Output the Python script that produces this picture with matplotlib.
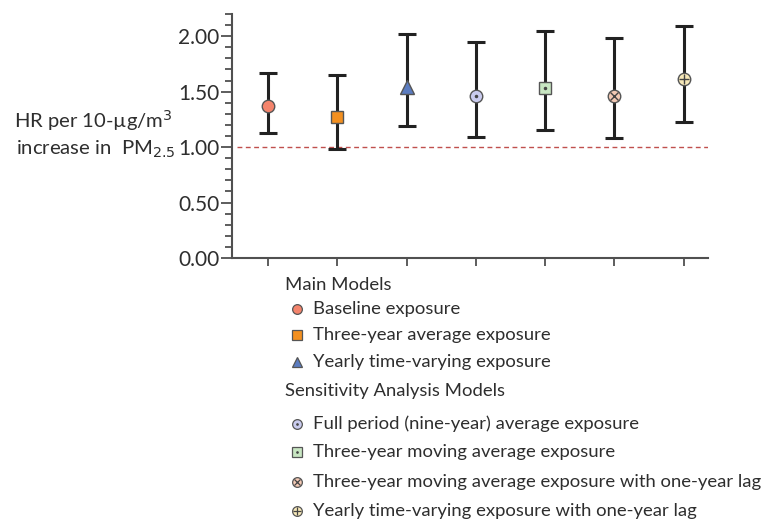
import matplotlib
matplotlib.use("Agg")
import matplotlib.pyplot as plt
from matplotlib.lines import Line2D
from matplotlib.ticker import MultipleLocator

plt.rcParams['font.family'] = ['Lato', 'DejaVu Sans']

# Hazard ratios with 95% confidence limits
models = [
    "Baseline exposure",
    "Three-year average exposure",
    "Yearly time-varying exposure",
    "Full period (nine-year) average exposure",
    "Three-year moving average exposure",
    "Three-year moving average exposure with one-year lag",
    "Yearly time-varying exposure with one-year lag",
]
hr = [1.37, 1.27, 1.54, 1.46, 1.53, 1.46, 1.61]
lower = [1.13, 0.98, 1.19, 1.09, 1.15, 1.08, 1.23]
upper = [1.67, 1.65, 2.02, 1.95, 2.05, 1.98, 2.09]
yticks = [0.0, 0.5, 1.0, 1.5, 2.0]
ytick_labels = ["0.00", "0.50", "1.00", "1.50", "2.00"]
group_titles = ["Main Models", "Sensitivity Analysis Models"]
group_sizes = [3, 4]

# marker shape, face colour, inner symbol
styles = [
    ("o", "#f4846c", None),
    ("s", "#f39020", None),
    ("^", "#5b7cc0", None),
    ("o", "#c9cbee", "."),
    ("s", "#c8e6c2", "."),
    ("o", "#f3c9b4", "x"),
    ("o", "#f6e8b8", "+"),
]

fig = plt.figure(figsize=(7.61, 5.21), dpi=100)
ax = fig.add_axes([232 / 761, 1 - 258 / 521, 476 / 761, 244 / 521])

x = list(range(1, len(hr) + 1))
ink = "#222222"
edge = "#555555"
text_col = "#2e2e2e"

ax.axhline(1.0, xmin=0.01, xmax=1.0, color="#c0504d", lw=1.0,
           ls=(0, (3.5, 2.5)), zorder=1)

for xi, h, lo, up, (mk, fc, inner) in zip(x, hr, lower, upper, styles):
    ax.errorbar([xi], [h], yerr=[[h - lo], [up - h]], fmt="none",
                ecolor=ink, elinewidth=2.2, capsize=6.5, capthick=2.2, zorder=2)
    ms = 9 if mk != "^" else 9.5
    ax.plot([xi], [h], marker=mk, ms=ms, mfc=fc, mec=edge, mew=1.0,
            ls="none", zorder=3)
    if inner is not None:
        ims = {".": 3, "x": 6, "+": 7.5}[inner]
        ax.plot([xi], [h], marker=inner, ms=ims, color="#444444",
                mew=1.0, ls="none", zorder=4)

ax.set_xlim(0.48, 7.35)
ax.set_ylim(0, 2.2)
ax.set_yticks(yticks)
ax.set_yticklabels(ytick_labels)
ax.yaxis.set_minor_locator(MultipleLocator(0.1))
ax.set_xticks(x)
ax.set_xticklabels([])

for side in ("top", "right"):
    ax.spines[side].set_visible(False)
for side in ("left", "bottom"):
    ax.spines[side].set_color("#505050")
    ax.spines[side].set_linewidth(1.5)

ax.tick_params(axis="y", which="major", length=8, width=1.3, color="#505050",
               labelsize=15, labelcolor=text_col, pad=1)
ax.tick_params(axis="y", which="minor", length=5, width=1.3, color="#505050")
ax.tick_params(axis="x", which="major", length=6, width=1.3, color="#505050",
               direction="out")

# y-axis label, written beside the tick labels
fig.text(93 / 761, 1 - 121 / 521, r"HR per 10-µg/m$^{3}$", ha="center",
         va="center", fontsize=14.6, color=text_col)
fig.text(176 / 761, 1 - 149 / 521, r"increase in  PM$_{2.5}$", ha="right",
         va="center", fontsize=14.6, color=text_col)

# legend block under the axes
rows_y = [285, 309, 335, 362, 391, 424, 452, 482, 511]
row = 0
k = 0
for title, n in zip(group_titles, group_sizes):
    fig.text(285 / 761, 1 - rows_y[row] / 521, title, ha="left", va="center",
             fontsize=13.3, color=text_col)
    row += 1
    for _ in range(n):
        mk, fc, inner = styles[k]
        yy = 1 - rows_y[row] / 521
        xx = 297 / 761
        fig.add_artist(Line2D([xx], [yy], marker=mk, ms=7, mfc=fc, mec=edge,
                              mew=0.9, ls="none", transform=fig.transFigure))
        if inner is not None:
            ims = {".": 2, "x": 4.8, "+": 6}[inner]
            fig.add_artist(Line2D([xx], [yy], marker=inner, ms=ims,
                                  color="#444444", mew=0.9, ls="none",
                                  transform=fig.transFigure))
        fig.text(313 / 761, yy, models[k], ha="left", va="center",
                 fontsize=13.3, color=text_col)
        row += 1
        k += 1

fig.savefig("out.png", dpi=100, facecolor="white")
